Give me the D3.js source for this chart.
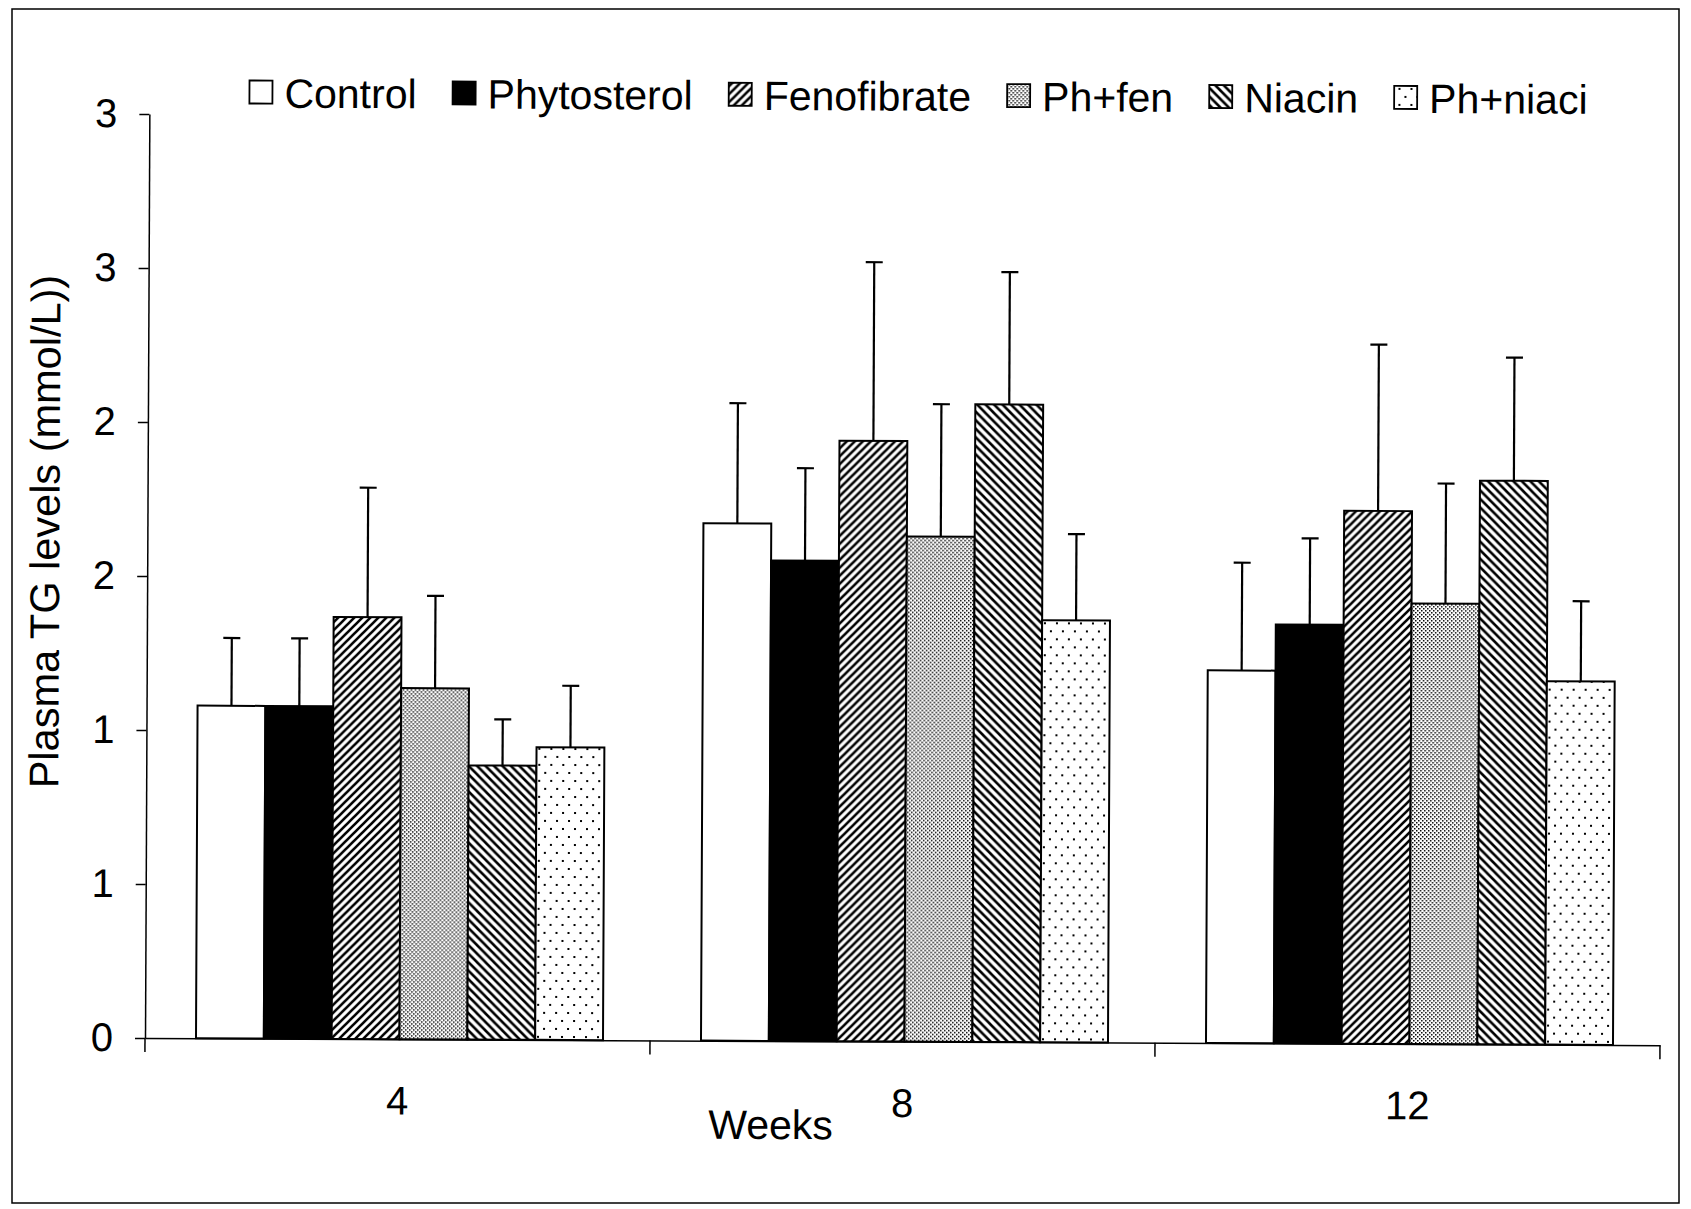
<!DOCTYPE html>
<html>
<head>
<meta charset="utf-8">
<script src="https://cdn.jsdelivr.net/npm/d3@7"></script>
<style>
  body { margin: 0; background: #fff; }
  text { font-family: "Liberation Sans", Arial, sans-serif; fill: #000; }
</style>
</head>
<body>
<div id="chart"></div>
<script>
// Data
const weeks = ['4', '8', '12']
const treatments = ['Control', 'Phytosterol', 'Fenofibrate', 'Ph+fen', 'Niacin', 'Ph+niaci']
const meanWeek4 = [1.08, 1.08, 1.37, 1.14, 0.89, 0.95]
const meanWeek8 = [1.68, 1.56, 1.95, 1.64, 2.07, 1.37]
const meanWeek12 = [1.21, 1.36, 1.73, 1.43, 1.83, 1.18]
const sdWeek4 = [0.22, 0.22, 0.42, 0.30, 0.15, 0.20]
const sdWeek8 = [0.39, 0.30, 0.58, 0.43, 0.43, 0.28]
const sdWeek12 = [0.35, 0.28, 0.54, 0.39, 0.40, 0.26]
const yTickValues = [0, 0.5, 1, 1.5, 2, 2.5, 3]
const yTickLabels = ['0', '1', '1', '2', '2', '3', '3']   // the original rounds the labels

function draw() {
  const means = [meanWeek4, meanWeek8, meanWeek12]
  const sds = [sdWeek4, sdWeek8, sdWeek12]
  const dataset = weeks.map((w, i) => ({
    week: w,
    values: treatments.map((t, j) => ({ week: w, key: t, mean: means[i][j], sd: sds[i][j] }))
  }))

  // Dimensions
  let dimensions = {
    width: 1691,
    height: 1209,
    left: 145,
    right: 1660,
    top: 114,
    bottom: 1038,
  }

  const svg = d3.select('#chart')
    .append('svg')
    .attr('width', dimensions.width)
    .attr('height', dimensions.height)

  svg.append('rect')
    .attr('width', dimensions.width).attr('height', dimensions.height)
    .attr('fill', '#fff')

  // patterns used for the bars
  const defs = svg.append('defs')
  const stripes = (id, size, d) => {
    const p = defs.append('pattern').attr('id', id)
      .attr('patternUnits', 'userSpaceOnUse').attr('width', size).attr('height', size)
    p.append('rect').attr('width', size).attr('height', size).attr('fill', '#fff')
    p.append('path').attr('d', d).attr('stroke', '#000').attr('stroke-width', 2.6)
  }
  stripes('fwd', 8, 'M0,8 L8,0 M-2,2 L2,-2 M6,10 L10,6')
  stripes('back', 8.5, 'M0,0 L8.5,8.5 M-2,6.5 L2,10.5 M6.5,-2 L10.5,2')

  const fine = defs.append('pattern').attr('id', 'fine')
    .attr('patternUnits', 'userSpaceOnUse').attr('width', 4).attr('height', 4)
  fine.append('rect').attr('width', 4).attr('height', 4).attr('fill', '#fff')
  fine.append('rect').attr('width', 1.5).attr('height', 1.5).attr('fill', '#000')
  fine.append('rect').attr('x', 2).attr('y', 2).attr('width', 1.5).attr('height', 1.5).attr('fill', '#000')

  const sparse = defs.append('pattern').attr('id', 'sparse')
    .attr('patternUnits', 'userSpaceOnUse').attr('width', 12).attr('height', 16)
  sparse.append('rect').attr('width', 12).attr('height', 16).attr('fill', '#fff')
  sparse.append('rect').attr('x', 2).attr('y', 2).attr('width', 2).attr('height', 2).attr('fill', '#000')
  sparse.append('rect').attr('x', 8).attr('y', 10).attr('width', 2).attr('height', 2).attr('fill', '#000')

  const fillScale = d3.scaleOrdinal()
    .domain(treatments)
    .range(['#fff', '#000', 'url(#fwd)', 'url(#fine)', 'url(#back)', 'url(#sparse)'])

  // outer frame of the figure
  svg.append('rect')
    .attr('x', 12).attr('y', 9)
    .attr('width', 1667).attr('height', 1194)
    .attr('fill', 'none').attr('stroke', '#000').attr('stroke-width', 1.5)

  // the scanned original is slightly tilted
  const ctr = svg.append('g')
    .attr('transform', `rotate(0.27, ${dimensions.left}, ${dimensions.bottom})`)

  // Scales
  const yScale = d3.scaleLinear()
    .domain([0, 3])
    .range([dimensions.bottom, dimensions.top])

  const xScale = d3.scaleBand()
    .domain(weeks)
    .range([dimensions.left, dimensions.right])

  const xInner = d3.scaleBand()
    .domain(treatments)
    .range([51, 458])

  // Bars
  const groups = ctr.append('g')
    .selectAll('g')
    .data(dataset)
    .join('g')
    .attr('transform', d => `translate(${xScale(d.week)},0)`)

  groups.selectAll('line.err')
    .data(d => d.values)
    .join('line')
    .attr('class', 'err')
    .attr('x1', d => xInner(d.key) + xInner.bandwidth() / 2)
    .attr('x2', d => xInner(d.key) + xInner.bandwidth() / 2)
    .attr('y1', d => yScale(d.mean))
    .attr('y2', d => yScale(d.mean + d.sd))
    .attr('stroke', '#000').attr('stroke-width', 2.2)

  groups.selectAll('line.cap')
    .data(d => d.values)
    .join('line')
    .attr('class', 'cap')
    .attr('x1', d => xInner(d.key) + xInner.bandwidth() / 2 - 8.5)
    .attr('x2', d => xInner(d.key) + xInner.bandwidth() / 2 + 8.5)
    .attr('y1', d => yScale(d.mean + d.sd))
    .attr('y2', d => yScale(d.mean + d.sd))
    .attr('stroke', '#000').attr('stroke-width', 2.2)

  groups.selectAll('rect')
    .data(d => d.values)
    .join('rect')
    .attr('x', d => xInner(d.key))
    .attr('y', d => yScale(d.mean))
    .attr('width', xInner.bandwidth())
    .attr('height', d => yScale(0) - yScale(d.mean))
    .attr('fill', d => fillScale(d.key))
    .attr('stroke', '#000').attr('stroke-width', 2)

  // Axes
  const yAxis = d3.axisLeft(yScale)
    .tickValues(yTickValues)
    .tickFormat((d, i) => yTickLabels[i])
    .tickSize(10)
    .tickSizeOuter(0)
    .tickPadding(22)
  const yAxisGroup = ctr.append('g')
    .attr('transform', `translate(${dimensions.left},0)`)
    .call(yAxis)
  yAxisGroup.selectAll('text').style('font-size', '40px').style('font-family', '"Liberation Sans", Arial, sans-serif')
  yAxisGroup.selectAll('line, path').attr('stroke-width', 1.5)

  const xAxis = d3.axisBottom(xScale)
    .tickSize(0)
    .tickPadding(47)
  const xAxisGroup = ctr.append('g')
    .attr('transform', `translate(0,${dimensions.bottom})`)
    .call(xAxis)
  xAxisGroup.selectAll('text').style('font-size', '40px').style('font-family', '"Liberation Sans", Arial, sans-serif')
  xAxisGroup.select('.domain').attr('stroke-width', 1.5)

  // tick marks sit between the week groups
  const bounds = weeks.map(w => xScale(w)).concat([xScale.range()[1]])
  xAxisGroup.selectAll('line.sep')
    .data(bounds)
    .join('line')
    .attr('class', 'sep')
    .attr('x1', d => d).attr('x2', d => d)
    .attr('y1', 0).attr('y2', 14)
    .attr('stroke', '#000').attr('stroke-width', 1.5)

  // Axis titles
  ctr.append('text')
    .attr('x', 771).attr('y', 1136)
    .attr('text-anchor', 'middle')
    .style('font-size', '41px')
    .text('Weeks')

  ctr.append('text')
    .attr('transform', 'translate(57,532) rotate(-90)')
    .attr('text-anchor', 'middle')
    .style('font-size', '41.5px')
    .text('Plasma TG levels (mmol/L))')

  // Legend
  const legend = ctr.append('g')
  let lx = 245
  treatments.forEach(t => {
    legend.append('rect')
      .attr('x', lx).attr('y', 80)
      .attr('width', 23).attr('height', 23)
      .attr('fill', fillScale(t))
      .attr('stroke', '#000').attr('stroke-width', 1.8)
    const label = legend.append('text')
      .attr('x', lx + 35).attr('y', 107)
      .style('font-size', '41px')
      .text(t)
    lx += 35 + label.node().getComputedTextLength() + 36
  })
}
draw()
</script>
</body>
</html>
